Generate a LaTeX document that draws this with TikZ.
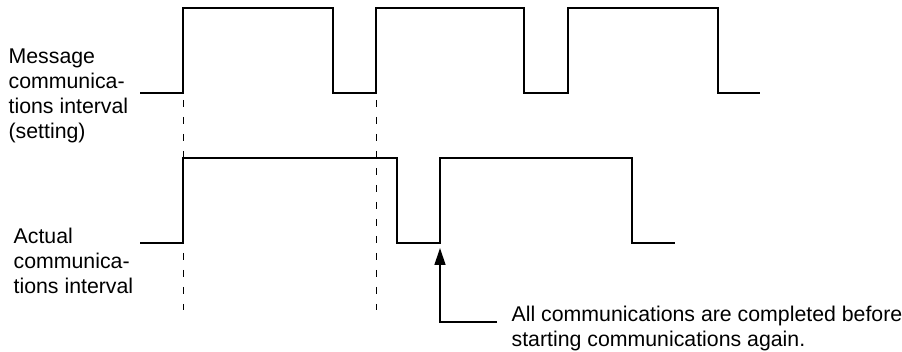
\documentclass[tikz,border=0pt]{standalone}
\usepackage{fontspec}
\setmainfont{Liberation Sans}
\usetikzlibrary{arrows.meta,positioning}

\begin{document}
\begin{tikzpicture}[x=0.5pt, y=-0.5pt, line width=0.65pt,
    lbl/.style={align=left, inner sep=0pt, anchor=north west, font=\fontsize{10.65}{12.6}\selectfont},
    guide/.style={line width=0.5pt, dash pattern=on 3.5pt off 5pt}]
    \useasboundingbox (0,0) rectangle (902,352);

    % Setting
    \node[lbl] (setting) at (8,48) {Message\\communica-\\tions interval\\(setting)};
    \draw (140,93) -- (183,93) -- (183,8) -- (333,8) -- (333,93) -- (376,93) -- (376,8)
        -- (524,8) -- (524,93) -- (568,93) -- (568,8) -- (718,8) -- (718,93) -- (760,93);

    % Actual
    \node[lbl] (actual) at (13,227) {Actual\\communica-\\tions interval};
    \draw (140,243) -- (183,243) -- (183,158) -- (397,158) -- (397,243) -- (440,243)
        -- (440,158) -- (632,158) -- (632,243) -- (675,243);

    % Guides
    \draw[guide] (183,100) -- (183,310);
    \draw[guide] (376,100) -- (376,310);

    % Note
    \node[lbl] (note) at (511,305) {All communications are completed before\\starting communications again.};
    \coordinate (noteend) at (497,322);
    \coordinate (bend) at (440,322);
    \coordinate (tip) at (440,248);
    \draw[-{Triangle[length=8.5pt, width=5.5pt]}] (noteend) -- (bend) -- (tip);
\end{tikzpicture}
\end{document}
